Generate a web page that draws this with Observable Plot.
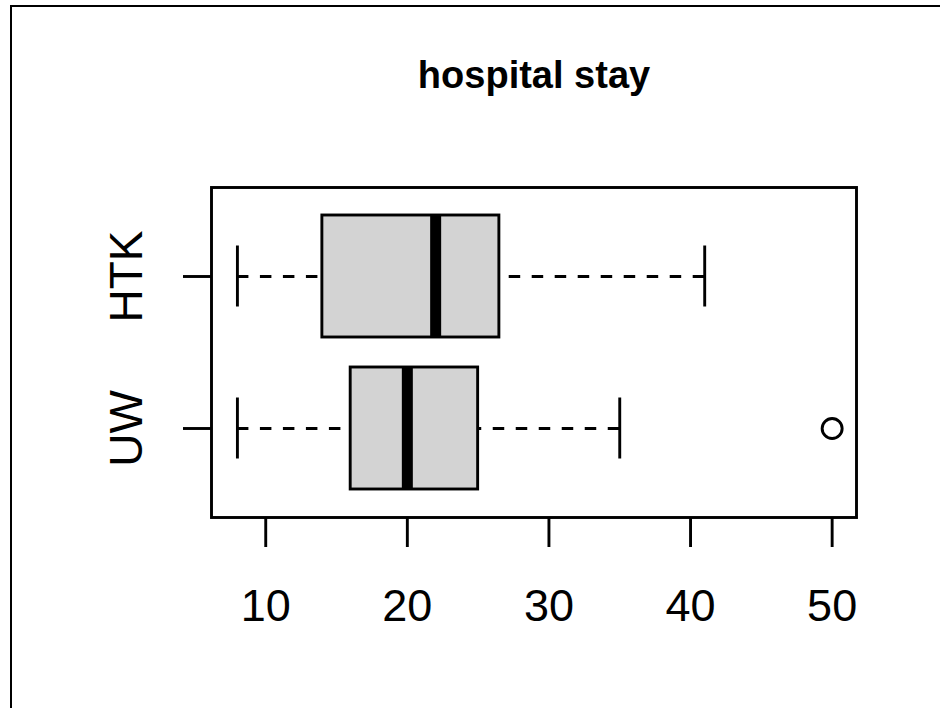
<!DOCTYPE html>
<html>
<head>
<meta charset="utf-8">
<script src="https://cdn.jsdelivr.net/npm/d3@7"></script>
<script src="https://cdn.jsdelivr.net/npm/@observablehq/plot@0.6"></script>
<style>
  html, body { margin: 0; padding: 0; background: #fff; overflow: hidden; }
  #wrap { position: relative; width: 940px; height: 708px; overflow: hidden; }
  svg { font-family: "Liberation Sans", Arial, Helvetica, sans-serif; }
</style>
</head>
<body>
<div id="wrap"></div>
<script>
// Data
const groups = ["HTK", "UW"];
const whiskerLow = [8, 8];
const q1 = [14, 16];
const median = [22, 20];
const q3 = [26.5, 25];
const whiskerHigh = [41, 35];
const outlierGroup = ["UW"];
const outlierValue = [50];
const xTicks = [10, 20, 30, 40, 50];
const title = "hospital stay";

const stats = groups.map((g, i) => ({
  group: g, lo: whiskerLow[i], q1: q1[i], med: median[i], q3: q3[i], hi: whiskerHigh[i]
}));
const outliers = outlierGroup.map((g, i) => ({group: g, value: outlierValue[i]}));

const LW = 2.9;
const bw = 122; // approximate band width for staple insets

const chart = Plot.plot({
  width: 940,
  height: 708,
  marginLeft: 211,
  marginRight: 84,
  marginTop: 187,
  marginBottom: 191,
  style: {fontFamily: "'Liberation Sans', Arial, Helvetica, sans-serif", background: "transparent"},
  x: {domain: [6.17, 51.72], axis: null},
  y: {type: "band", domain: groups, paddingInner: 0.2, paddingOuter: 0.18, axis: null},
  marks: [
    Plot.frame({stroke: "#000", strokeWidth: LW}),
    // whiskers (dashed), drawn from whisker end toward the box
    Plot.ruleY(stats, {y: "group", x1: "lo", x2: "q1", stroke: "#000", strokeWidth: LW, strokeDasharray: "11.5,11.5"}),
    Plot.ruleY(stats, {y: "group", x1: "hi", x2: "q3", stroke: "#000", strokeWidth: LW, strokeDasharray: "11.5,11.5"}),
    // staples
    Plot.tickX(stats, {y: "group", x: "lo", stroke: "#000", strokeWidth: LW, insetTop: bw / 4, insetBottom: bw / 4}),
    Plot.tickX(stats, {y: "group", x: "hi", stroke: "#000", strokeWidth: LW, insetTop: bw / 4, insetBottom: bw / 4}),
    // boxes
    Plot.barX(stats, {y: "group", x1: "q1", x2: "q3", fill: "#d3d3d3", stroke: "#000", strokeWidth: LW}),
    // medians
    Plot.tickX(stats, {y: "group", x: "med", stroke: "#000", strokeWidth: 11}),
    // outliers
    Plot.dot(outliers, {y: "group", x: "value", r: 10, stroke: "#000", strokeWidth: LW, fill: "none"}),
    // axes
    Plot.axisX(xTicks, {tickSize: 30, tickPadding: 42, fontSize: 45, strokeWidth: LW, label: null, tickFormat: d => String(d), fill: "#000"}),
    Plot.axisY(groups, {tickSize: 28, strokeWidth: LW, label: null, tickFormat: () => ""}),
    Plot.text(groups, {y: d => d, frameAnchor: "left", dx: -84, rotate: -90, fontSize: 46, textAnchor: "middle", lineAnchor: "middle", fill: "#000"}),
    // title
    Plot.text([title], {frameAnchor: "top", dy: -112, fontSize: 38, fontWeight: "bold", lineAnchor: "middle", textAnchor: "middle", fill: "#000"})
  ]
});
// decorative page border (top and left edges only, as in the reference image)
const ns = "http://www.w3.org/2000/svg";
const edge = document.createElementNS(ns, "path");
edge.setAttribute("d", "M11,708V6H960");
edge.setAttribute("fill", "none");
edge.setAttribute("stroke", "#000");
edge.setAttribute("stroke-width", "2");
chart.setAttribute("overflow", "hidden");
chart.appendChild(edge);
document.getElementById("wrap").prepend(chart);
</script>
</body>
</html>
